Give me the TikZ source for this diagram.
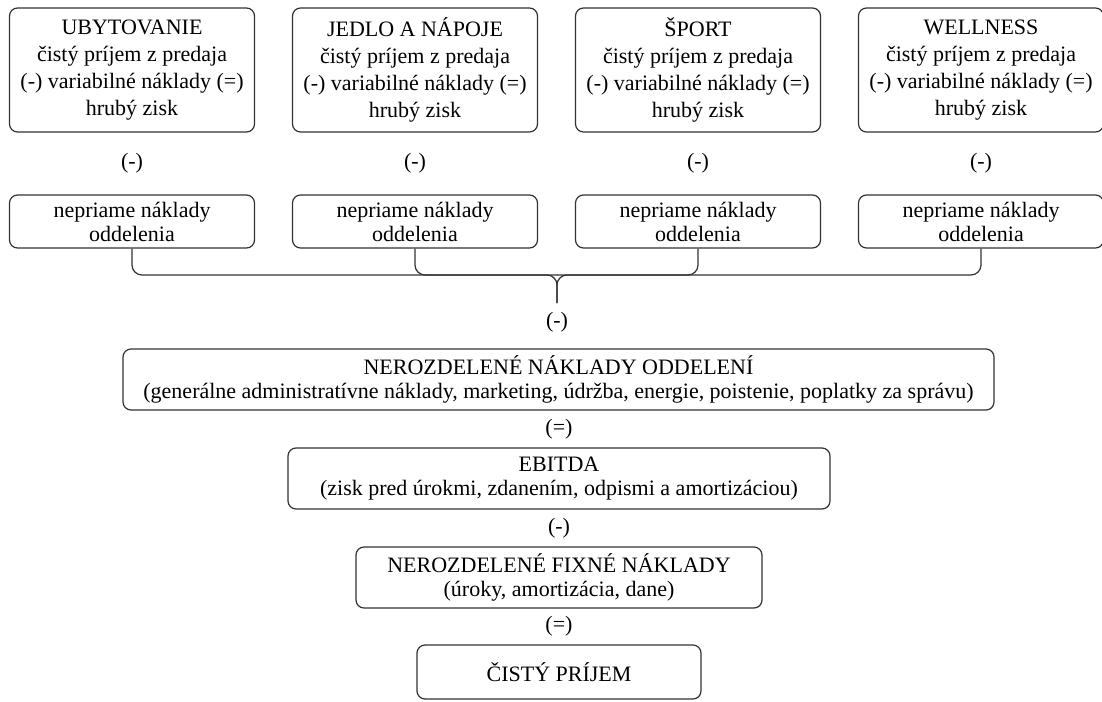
\documentclass[tikz,border=0pt]{standalone}
\usepackage{fontspec}
\setmainfont{Liberation Serif}
\usepackage{tikz}
\usetikzlibrary{positioning,calc}

\begin{document}
\begin{tikzpicture}[
  x=0.5pt,
  y=-0.5pt,
  font=\fontsize{11}{12}\selectfont,
  dept/.style={
    draw=black!80,
    line width=0.6pt,
    rounded corners=4pt,
    minimum width=122.5pt,
    minimum height=62pt,
    inner sep=0pt,
    align=center,
    font=\fontsize{11}{13.5}\selectfont
  },
  indirect/.style={
    draw=black!80,
    line width=0.6pt,
    rounded corners=4pt,
    minimum width=122.5pt,
    minimum height=26.5pt,
    inner sep=0pt,
    align=center
  },
  total/.style={
    draw=black!80,
    line width=0.6pt,
    rounded corners=4pt,
    minimum height=30.5pt,
    inner sep=0pt,
    align=center
  },
  op/.style={
    inner sep=0pt
  },
  brace/.style={
    draw=black!80,
    line width=0.6pt,
    rounded corners=5pt
  }
]
\useasboundingbox (0,0) rectangle (1102,701);

%---------------------------------
% Departments
%---------------------------------
\node[dept] (ubyt) at (132,70)
{UBYTOVANIE\\čistý príjem z predaja\\(-) variabilné náklady (=)\\hrubý zisk};
\node[dept] (jedlo) at (415,70)
{JEDLO A NÁPOJE\\čistý príjem z predaja\\(-) variabilné náklady (=)\\hrubý zisk};
\node[dept] (sport) at (698,70)
{ŠPORT\\čistý príjem z predaja\\(-) variabilné náklady (=)\\hrubý zisk};
\node[dept] (well) at (981,70)
{WELLNESS\\čistý príjem z predaja\\(-) variabilné náklady (=)\\hrubý zisk};

\node[op] (m1) at (132,163) {(-)};
\node[op] (m2) at (415,163) {(-)};
\node[op] (m3) at (698,163) {(-)};
\node[op] (m4) at (981,163) {(-)};

%---------------------------------
% Indirect costs of departments
%---------------------------------
\node[indirect] (ubytind) at (132,221.5) {nepriame náklady\\oddelenia};
\node[indirect] (jedloind) at (415,221.5) {nepriame náklady\\oddelenia};
\node[indirect] (sportind) at (698,221.5) {nepriame náklady\\oddelenia};
\node[indirect] (wellind) at (981,221.5) {nepriame náklady\\oddelenia};

% brace joining the four departments
\coordinate (join) at (557,275);
\coordinate (tip) at (557,303);
\draw[brace] (ubytind.south) |- (join) -- (tip);
\draw[brace] (wellind.south) |- (join) -- (tip);
\draw[brace] (jedloind.south) |- (join);
\draw[brace] (sportind.south) |- (join);

%---------------------------------
% Totals
%---------------------------------
\node[op] (m5) at (557,322) {(-)};
\node[total, minimum width=435.5pt] (undist) at (558.5,379.5)
{NEROZDELENÉ NÁKLADY ODDELENÍ\\(generálne administratívne náklady, marketing, údržba, energie, poistenie, poplatky za správu)};
\node[op] (e1) at (559,429) {(=)};
\node[total, minimum width=271pt] (ebitda) at (559,478.5)
{EBITDA\\(zisk pred úrokmi, zdanením, odpismi a amortizáciou)};
\node[op] (m6) at (559,528) {(-)};
\node[total, minimum width=203pt] (fixed) at (559,577.5)
{NEROZDELENÉ FIXNÉ NÁKLADY\\(úroky, amortizácia, dane)};
\node[op] (e2) at (559,626) {(=)};
\node[total, minimum width=142pt, minimum height=27pt] (net) at (559,672)
{ČISTÝ PRÍJEM};

\end{tikzpicture}
\end{document}
